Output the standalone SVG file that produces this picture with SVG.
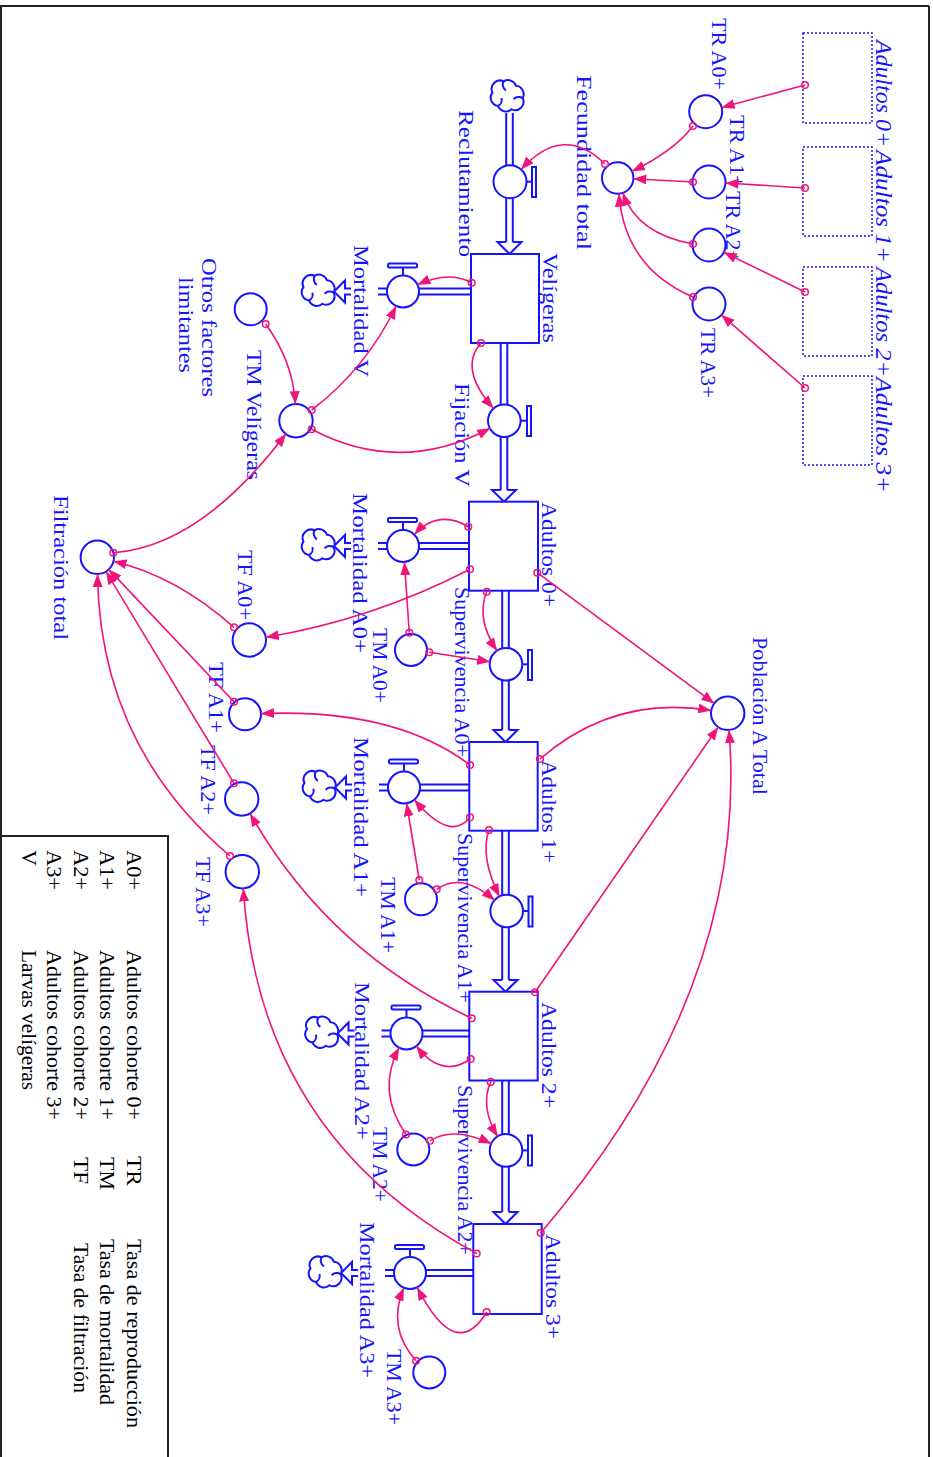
<svg xmlns="http://www.w3.org/2000/svg" width="933" height="1457" viewBox="0 0 933 1457">
<defs>
<style>
.t{font-family:"Liberation Serif","Times New Roman",serif;font-size:22px;fill:#1414ff}
.ti{font-style:italic;font-size:24px}
.k{fill:#000}
.s{fill:#fff;stroke:#1414ff;stroke-width:2}
.sh{fill:none;stroke:#1414ff;stroke-width:1.5;stroke-dasharray:2 2}
.p{stroke:#1414ff;stroke-width:2;fill:none}
.ah{fill:#fff;stroke:#1414ff;stroke-width:2}
.c{fill:#fff;stroke:#1414ff;stroke-width:2}
.ln{fill:none;stroke:#f0147a;stroke-width:1.6;marker-start:url(#o);marker-end:url(#a)}
.fr{fill:none;stroke:#222;stroke-width:2}
</style>
<marker id="a" viewBox="0 0 13 10" refX="13" refY="5" markerWidth="13" markerHeight="10" markerUnits="userSpaceOnUse" orient="auto"><path d="M0,0 L13,5 L0,10 Z" fill="#f0147a"/></marker>
<marker id="o" viewBox="0 0 10 10" refX="5" refY="5" markerWidth="10" markerHeight="10" markerUnits="userSpaceOnUse"><circle cx="5" cy="5" r="3.3" fill="none" stroke="#f0147a" stroke-width="1.5"/></marker>
<g id="cl"><g transform="scale(1.12)"><path d="M-3,-14 a7.5,7.5 0 0 1 11,4 a7.5,7.5 0 0 1 6,11 a7.5,7.5 0 0 1 -10,10 a7.5,7.5 0 0 1 -12,-3 a7.5,7.5 0 0 1 -5,-12 a7.5,7.5 0 0 1 10,-10 Z" fill="#fff" stroke="#1414ff" stroke-width="1.8"/><path d="M-3,-14 a6,6 0 0 0 2,8 M14,1 a6,6 0 0 0 -8,1 M-8,8 a6,6 0 0 0 3,-7" fill="none" stroke="#1414ff" stroke-width="1.8"/></g></g>
</defs>
<rect width="933" height="1457" fill="#fff"/>
<g id="frame">
<path class="fr" d="M0,6 H929 M929,6 V1457 M1,6 V1457"/>
<path class="fr" d="M0,836 H168 V1457"/>
</g>
<g id="legend">
<text class="t k" transform="translate(127,850) rotate(90)" textLength="40" lengthAdjust="spacingAndGlyphs">A0+</text>
<text class="t k" transform="translate(100,850) rotate(90)" textLength="40" lengthAdjust="spacingAndGlyphs">A1+</text>
<text class="t k" transform="translate(74,850) rotate(90)" textLength="40" lengthAdjust="spacingAndGlyphs">A2+</text>
<text class="t k" transform="translate(47,850) rotate(90)" textLength="40" lengthAdjust="spacingAndGlyphs">A3+</text>
<text class="t k" transform="translate(22,850) rotate(90)">V</text>
<text class="t k" transform="translate(127,950) rotate(90)" textLength="170" lengthAdjust="spacingAndGlyphs">Adultos cohorte 0+</text>
<text class="t k" transform="translate(100,950) rotate(90)" textLength="170" lengthAdjust="spacingAndGlyphs">Adultos cohorte 1+</text>
<text class="t k" transform="translate(74,950) rotate(90)" textLength="170" lengthAdjust="spacingAndGlyphs">Adultos cohorte 2+</text>
<text class="t k" transform="translate(47,950) rotate(90)" textLength="170" lengthAdjust="spacingAndGlyphs">Adultos cohorte 3+</text>
<text class="t k" transform="translate(22,950) rotate(90)" textLength="140" lengthAdjust="spacingAndGlyphs">Larvas velígeras</text>
<text class="t k" transform="translate(127,1156) rotate(90)" textLength="30" lengthAdjust="spacingAndGlyphs">TR</text>
<text class="t k" transform="translate(100,1157) rotate(90)" textLength="33" lengthAdjust="spacingAndGlyphs">TM</text>
<text class="t k" transform="translate(74,1157) rotate(90)" textLength="27" lengthAdjust="spacingAndGlyphs">TF</text>
<text class="t k" transform="translate(127,1239) rotate(90)" textLength="189" lengthAdjust="spacingAndGlyphs">Tasa de reproducción</text>
<text class="t k" transform="translate(100,1239) rotate(90)" textLength="166" lengthAdjust="spacingAndGlyphs">Tasa de mortalidad</text>
<text class="t k" transform="translate(74,1243) rotate(90)" textLength="150" lengthAdjust="spacingAndGlyphs">Tasa de filtración</text>
</g>
<g id="shadow-adultos0">
<rect class="sh" x="803" y="33" width="69" height="90"/>
<text class="t ti" transform="translate(876,40) rotate(90)" textLength="107" lengthAdjust="spacingAndGlyphs">Adultos 0+</text>
</g>
<g id="shadow-adultos1">
<rect class="sh" x="803" y="147" width="69" height="89"/>
<text class="t ti" transform="translate(876,150) rotate(90)" textLength="113" lengthAdjust="spacingAndGlyphs">Adultos 1+</text>
</g>
<g id="shadow-adultos2">
<rect class="sh" x="803" y="267" width="69" height="89"/>
<text class="t ti" transform="translate(876,267) rotate(90)" textLength="110" lengthAdjust="spacingAndGlyphs">Adultos 2+</text>
</g>
<g id="shadow-adultos3">
<rect class="sh" x="803" y="376" width="69" height="89"/>
<text class="t ti" transform="translate(876,377) rotate(90)" textLength="116" lengthAdjust="spacingAndGlyphs">Adultos 3+</text>
</g>
<g id="flow-reclutamiento">
<use href="#cl" transform="translate(507,97)"/>
<path class="p" d="M506.2,113 V165.2 M512.8,113 V165.2 M506.2,198.2 V242 M512.8,198.2 V242"/>
<path class="ah" d="M506.2,242 H497.5 L509.5,254 L521.5,242 H512.8"/>
<line class="p" x1="526.5" y1="181.7" x2="532" y2="181.7"/>
<rect class="c" x="532" y="167" width="4" height="30"/>
<circle class="c" cx="510" cy="181.7" r="16.5"/>
<text class="t" transform="translate(459,110) rotate(90)" textLength="147" lengthAdjust="spacingAndGlyphs">Reclutamiento</text>
</g>
<g id="flow-fijacion">
<path class="p" d="M500.7,343 V404.5 M507.3,343 V404.5 M500.7,437 V490 M507.3,437 V490"/>
<path class="ah" d="M500.7,490 H492 L504,501.7 L516,490 H507.3"/>
<line class="p" x1="520.5" y1="420.7" x2="527" y2="420.7"/>
<rect class="c" x="527" y="406" width="4" height="30"/>
<circle class="c" cx="504.3" cy="420.7" r="16.3"/>
<text class="t" transform="translate(455,383) rotate(90)" textLength="104" lengthAdjust="spacingAndGlyphs">Fijación V</text>
</g>
<g id="flow-superv-a0">
<path class="p" d="M502.2,590.7 V648.5 M508.8,590.7 V648.5 M502.2,680 V730 M508.8,680 V730"/>
<path class="ah" d="M502.2,730 H493.5 L505.5,742 L517.5,730 H508.8"/>
<line class="p" x1="522" y1="664.3" x2="528" y2="664.3"/>
<rect class="c" x="528" y="650" width="4" height="30"/>
<circle class="c" cx="506" cy="664.3" r="16.3"/>
<text class="t" transform="translate(455,587) rotate(90)" textLength="170" lengthAdjust="spacingAndGlyphs">Supervivencia A0+</text>
</g>
<g id="flow-superv-a1">
<path class="p" d="M502.2,830.7 V895.2 M508.8,830.7 V895.2 M502.2,927 V980 M508.8,927 V980"/>
<path class="ah" d="M502.2,980 H493.5 L505.5,991.7 L517.5,980 H508.8"/>
<line class="p" x1="522.7" y1="911" x2="528.5" y2="911"/>
<rect class="c" x="528.5" y="896.5" width="4" height="30"/>
<circle class="c" cx="506.7" cy="911" r="16.3"/>
<text class="t" transform="translate(458,833) rotate(90)" textLength="170" lengthAdjust="spacingAndGlyphs">Supervivencia A1+</text>
</g>
<g id="flow-superv-a2">
<path class="p" d="M502.2,1080.5 V1134.5 M508.8,1080.5 V1134.5 M502.2,1166.5 V1212 M508.8,1166.5 V1212"/>
<path class="ah" d="M502.2,1212 H493.5 L505.5,1224 L517.5,1212 H508.8"/>
<line class="p" x1="522" y1="1150.4" x2="528" y2="1150.4"/>
<rect class="c" x="528" y="1135.5" width="4" height="30"/>
<circle class="c" cx="506" cy="1150.4" r="16.3"/>
<text class="t" transform="translate(458,1085) rotate(90)" textLength="170" lengthAdjust="spacingAndGlyphs">Supervivencia A2+</text>
</g>
<g id="flow-mort-v">
<path class="p" d="M419,288.5 H471 M419,294.5 H471 M387,288.5 H378 M387,294.5 H378"/>
<path class="ah" d="M351,288.5 H345 V280.5 L334,291.5 L345,302.5 V294.5 H351"/>
<use href="#cl" transform="translate(318,291.5)"/>
<line class="p" x1="403" y1="267.5" x2="403" y2="275.5"/>
<rect class="c" x="388" y="263.5" width="29" height="4" rx="1.5"/>
<circle class="c" cx="403" cy="291.5" r="16"/>
<text class="t" transform="translate(354,245) rotate(90)" textLength="132" lengthAdjust="spacingAndGlyphs">Mortalidad V</text>
</g>
<g id="flow-mort-a0">
<path class="p" d="M419,543 H469 M419,549 H469 M387,543 H378 M387,549 H378"/>
<path class="ah" d="M351,543 H345 V535 L334,546 L345,557 V549 H351"/>
<use href="#cl" transform="translate(318,546)"/>
<line class="p" x1="403" y1="522" x2="403" y2="530"/>
<rect class="c" x="388" y="518" width="29" height="4" rx="1.5"/>
<circle class="c" cx="403" cy="546" r="16"/>
<text class="t" transform="translate(353,493) rotate(90)" textLength="160" lengthAdjust="spacingAndGlyphs">Mortalidad A0+</text>
</g>
<g id="flow-mort-a1">
<path class="p" d="M420,784.5 H469.3 M420,790.5 H469.3 M388,784.5 H379 M388,790.5 H379"/>
<path class="ah" d="M352,784.5 H346 V776.5 L335,787.5 L346,798.5 V790.5 H352"/>
<use href="#cl" transform="translate(319,787.5)"/>
<line class="p" x1="404" y1="763.5" x2="404" y2="771.5"/>
<rect class="c" x="389" y="759.5" width="29" height="4" rx="1.5"/>
<circle class="c" cx="404" cy="787.5" r="16"/>
<text class="t" transform="translate(354,737) rotate(90)" textLength="160" lengthAdjust="spacingAndGlyphs">Mortalidad A1+</text>
</g>
<g id="flow-mort-a2">
<path class="p" d="M422.5,1030.5 H469.3 M422.5,1036.5 H469.3 M390.5,1030.5 H381.5 M390.5,1036.5 H381.5"/>
<path class="ah" d="M354.5,1030.5 H348.5 V1022.5 L337.5,1033.5 L348.5,1044.5 V1036.5 H354.5"/>
<use href="#cl" transform="translate(321.5,1033.5)"/>
<line class="p" x1="406.5" y1="1009.5" x2="406.5" y2="1017.5"/>
<rect class="c" x="391.5" y="1005.5" width="29" height="4" rx="1.5"/>
<circle class="c" cx="406.5" cy="1033.5" r="16"/>
<text class="t" transform="translate(355,982) rotate(90)" textLength="158" lengthAdjust="spacingAndGlyphs">Mortalidad A2+</text>
</g>
<g id="flow-mort-a3">
<path class="p" d="M426,1270 H473.3 M426,1276 H473.3 M394,1270 H385 M394,1276 H385"/>
<path class="ah" d="M358,1270 H352 V1262 L341,1273 L352,1284 V1276 H358"/>
<use href="#cl" transform="translate(325,1273)"/>
<line class="p" x1="410" y1="1249" x2="410" y2="1257"/>
<rect class="c" x="395" y="1245" width="29" height="4" rx="1.5"/>
<circle class="c" cx="410" cy="1273" r="16"/>
<text class="t" transform="translate(360,1222) rotate(90)" textLength="156" lengthAdjust="spacingAndGlyphs">Mortalidad A3+</text>
</g>
<g id="stock-veligeras">
<rect class="s" x="471" y="254" width="68" height="89"/>
<text class="t" transform="translate(543,253) rotate(90)" textLength="90" lengthAdjust="spacingAndGlyphs">Velígeras</text>
</g>
<g id="stock-adultos0">
<rect class="s" x="469" y="501.7" width="69" height="89"/>
<text class="t" transform="translate(542,502) rotate(90)" textLength="105" lengthAdjust="spacingAndGlyphs">Adultos 0+</text>
</g>
<g id="stock-adultos1">
<rect class="s" x="469.3" y="742" width="68.4" height="88.7"/>
<text class="t" transform="translate(542,760) rotate(90)" textLength="103" lengthAdjust="spacingAndGlyphs">Adultos 1+</text>
</g>
<g id="stock-adultos2">
<rect class="s" x="469.3" y="991.7" width="68.4" height="88.8"/>
<text class="t" transform="translate(542,1002) rotate(90)" textLength="106" lengthAdjust="spacingAndGlyphs">Adultos 2+</text>
</g>
<g id="stock-adultos3">
<rect class="s" x="473.3" y="1224" width="68.4" height="90"/>
<text class="t" transform="translate(546,1234) rotate(90)" textLength="105" lengthAdjust="spacingAndGlyphs">Adultos 3+</text>
</g>
<g id="aux-tr-a0"><circle class="c" cx="705.7" cy="111.7" r="16.5"/><text class="t" transform="translate(712,18) rotate(90)" textLength="72" lengthAdjust="spacingAndGlyphs">TR A0+</text></g>
<g id="aux-tr-a1"><circle class="c" cx="709" cy="182" r="16.5"/><text class="t" transform="translate(730,115) rotate(90)" textLength="73" lengthAdjust="spacingAndGlyphs">TR A1+</text></g>
<g id="aux-tr-a2"><circle class="c" cx="709" cy="245" r="16.5"/><text class="t" transform="translate(726,191) rotate(90)" textLength="72" lengthAdjust="spacingAndGlyphs">TR A2+</text></g>
<g id="aux-tr-a3"><circle class="c" cx="709" cy="304" r="16.5"/><text class="t" transform="translate(701,328) rotate(90)" textLength="70" lengthAdjust="spacingAndGlyphs">TR A3+</text></g>
<g id="aux-fecundidad"><circle class="c" cx="617.7" cy="178" r="15.7"/><text class="t" transform="translate(577,75) rotate(90)" textLength="175" lengthAdjust="spacingAndGlyphs">Fecundidad total</text></g>
<g id="aux-otros"><circle class="c" cx="250.7" cy="309.3" r="16"/><text class="t" transform="translate(202,258) rotate(90)" textLength="139" lengthAdjust="spacingAndGlyphs">Otros factores</text><text class="t" transform="translate(179,277) rotate(90)" textLength="96" lengthAdjust="spacingAndGlyphs">limitantes</text></g>
<g id="aux-tm-vel"><circle class="c" cx="296" cy="420.7" r="16.7"/><text class="t" transform="translate(247,350) rotate(90)" textLength="130" lengthAdjust="spacingAndGlyphs">TM Velígeras</text></g>
<g id="aux-filtracion"><circle class="c" cx="97.3" cy="557.3" r="16.7"/><text class="t" transform="translate(54,495) rotate(90)" textLength="145" lengthAdjust="spacingAndGlyphs">Filtración total</text></g>
<g id="aux-tm-a0"><circle class="c" cx="411" cy="650" r="16"/><text class="t" transform="translate(373,628) rotate(90)" textLength="75" lengthAdjust="spacingAndGlyphs">TM A0+</text></g>
<g id="aux-tf-a0"><circle class="c" cx="249.3" cy="640" r="16.7"/><text class="t" transform="translate(238,550) rotate(90)" textLength="70" lengthAdjust="spacingAndGlyphs">TF A0+</text></g>
<g id="aux-poblacion"><circle class="c" cx="727.7" cy="713.3" r="16.7"/><text class="t" transform="translate(753,637) rotate(90)" textLength="158" lengthAdjust="spacingAndGlyphs">Población A Total</text></g>
<g id="aux-tf-a1"><circle class="c" cx="245" cy="714.3" r="16"/><text class="t" transform="translate(209,662) rotate(90)" textLength="71" lengthAdjust="spacingAndGlyphs">TF A1+</text></g>
<g id="aux-tf-a2"><circle class="c" cx="241.7" cy="799" r="16.7"/><text class="t" transform="translate(201,745) rotate(90)" textLength="70" lengthAdjust="spacingAndGlyphs">TF A2+</text></g>
<g id="aux-tf-a3"><circle class="c" cx="242.3" cy="871.7" r="16.7"/><text class="t" transform="translate(196,857) rotate(90)" textLength="70" lengthAdjust="spacingAndGlyphs">TF A3+</text></g>
<g id="aux-tm-a1"><circle class="c" cx="421" cy="899.3" r="16"/><text class="t" transform="translate(381,877) rotate(90)" textLength="76" lengthAdjust="spacingAndGlyphs">TM A1+</text></g>
<g id="aux-tm-a2"><circle class="c" cx="413.3" cy="1149.4" r="16"/><text class="t" transform="translate(373,1127) rotate(90)" textLength="75" lengthAdjust="spacingAndGlyphs">TM A2+</text></g>
<g id="aux-tm-a3"><circle class="c" cx="429.3" cy="1372.5" r="16"/><text class="t" transform="translate(387,1349) rotate(90)" textLength="76" lengthAdjust="spacingAndGlyphs">TM A3+</text></g>
<g id="connectors">
<path class="ln" d="M805,85 L721.6,107.4"/>
<path class="ln" d="M805,188 L725.5,183"/>
<path class="ln" d="M805,292 L723.8,252.3"/>
<path class="ln" d="M805,388 L721.4,314.9"/>
<path class="ln" d="M693,126 Q673.65,151.5 631.9,171.3"/>
<path class="ln" d="M693,182 L633.4,178.8"/>
<path class="ln" d="M693,244 Q637,234 622.8,192.8"/>
<path class="ln" d="M693,297 Q624.5,267.7 618.9,193.7"/>
<path class="ln" d="M605,164 Q563.35,122.85 521.1,169.5"/>
<path class="ln" d="M481,343 Q458.3,368.75 493.4,408.3"/>
<path class="ln" d="M471.7,282.7 Q448.75,270.4 417.5,284.8"/>
<path class="ln" d="M265.7,324 Q293.4,362.6 295.3,404.2"/>
<path class="ln" d="M311.7,410 Q366.7,368 396.1,306"/>
<path class="ln" d="M311.7,429.3 Q399.65,476 490.2,428.2"/>
<path class="ln" d="M113.3,552.7 Q200.35,546.65 286,433.8"/>
<path class="ln" d="M468.3,526.7 Q438.2,508.95 414.3,534.4"/>
<path class="ln" d="M409.3,632.7 L404.4,562"/>
<path class="ln" d="M429.3,652.3 L490.2,661.8"/>
<path class="ln" d="M486.7,591.7 Q475.65,618.95 497.1,651"/>
<path class="ln" d="M537.3,572.7 L714.3,703.4"/>
<path class="ln" d="M470,569.3 Q372,619.85 265.8,637.3"/>
<path class="ln" d="M540,759 Q614.3,694.5 711.2,710.6"/>
<path class="ln" d="M470,765 Q395,708 261,713.6"/>
<path class="ln" d="M470,817.3 Q450.4,842.35 414.3,799.7"/>
<path class="ln" d="M419.3,880 L406.6,803.3"/>
<path class="ln" d="M436.7,889.3 Q461.75,871.45 494.7,900.4"/>
<path class="ln" d="M489,830 Q479.55,856.5 499.6,896.7"/>
<path class="ln" d="M535,992.3 L718.2,727"/>
<path class="ln" d="M471.7,1018.3 Q328,951 250,813.5"/>
<path class="ln" d="M470.7,1059 Q441.25,1078.9 416.4,1046.1"/>
<path class="ln" d="M406,1134.5 Q376,1091.1 399.2,1047.4"/>
<path class="ln" d="M430,1140.8 Q452.9,1125.8 491.5,1143.7"/>
<path class="ln" d="M490.7,1081.9 Q479.65,1106.8 497.7,1136.7"/>
<path class="ln" d="M540.7,1232.9 Q749.9,988.55 729,730"/>
<path class="ln" d="M476.7,1253.5 Q258.8,1135.6 243.3,888.4"/>
<path class="ln" d="M486.7,1312 Q455.75,1363.2 417.2,1287.3"/>
<path class="ln" d="M416,1360.7 Q386.8,1328.4 403.8,1287.8"/>
<path class="ln" d="M234,627.3 Q176.7,576.35 113.5,561.2"/>
<path class="ln" d="M234,701.7 L108.8,569.4"/>
<path class="ln" d="M234,783.3 L106,571.6"/>
<path class="ln" d="M230,856 Q99.5,745.1 97.5,574"/>
</g>
</svg>
